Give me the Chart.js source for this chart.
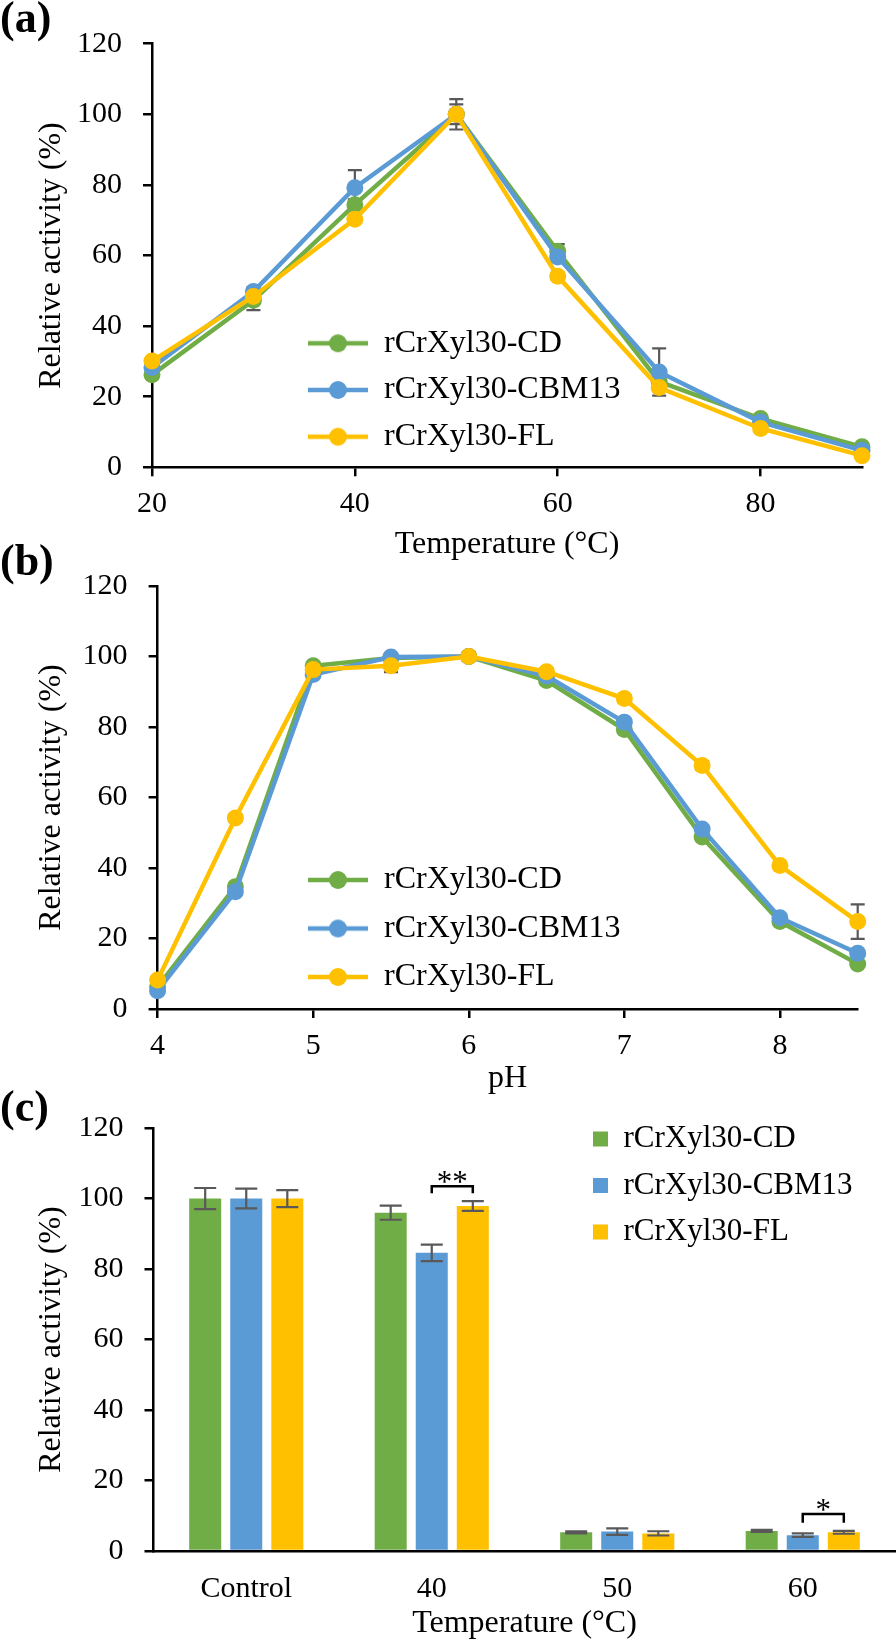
<!DOCTYPE html>
<html>
<head>
<meta charset="utf-8">
<script src="https://cdn.jsdelivr.net/npm/chart.js@4.4.1/dist/chart.umd.min.js"></script>
<style>
  body { margin: 0; background: #fff; }
  #page { position: relative; width: 896px; height: 1643px; overflow: hidden; font-family: 'Liberation Serif', 'Times New Roman', serif; }
  .panel { position: absolute; left: 0; width: 896px; }
  .tag { position: absolute; left: 0; font-weight: bold; font-size: 44px; line-height: 44px; color: #000; }
</style>
</head>
<body>
<div id="page">
  <div class="panel" style="top:0;height:564px"><canvas id="tempChart"></canvas></div>
  <div class="panel" style="top:540px;height:558px"><canvas id="phChart"></canvas></div>
  <div class="panel" style="top:1080px;height:563px"><canvas id="stabChart"></canvas></div>
  <div class="tag" style="top:-4px">(a)</div>
  <div class="tag" style="top:539px">(b)</div>
  <div class="tag" style="top:1085px">(c)</div>
</div>
<script>
const FONT = "'Liberation Serif', 'Times New Roman', serif";
Chart.defaults.font.family = FONT;
Chart.defaults.color = "#000";
Chart.defaults.animation = false;

const seriesNames = ["rCrXyl30-CD", "rCrXyl30-CBM13", "rCrXyl30-FL"];
const seriesColors = ["#70AD47", "#5B9BD5", "#FFC000"];
const errColor = "#595959";

// (a) temperature profile
const temps = [20, 30, 40, 50, 60, 70, 80, 90];
const cdTemp = [26.2, 47.3, 74.4, 100, 61.2, 24.3, 13.8, 5.8];
const cbmTemp = [28.3, 49.8, 79.2, 100, 59.6, 27.0, 12.8, 4.8];
const flTemp = [30.1, 48.4, 70.3, 100, 54.1, 22.6, 11.0, 3.3];
const cdTempErr = [1.0, 2.8, 1.5, 4.3, 2.0, 1.2, 0.8, 0.5];
const cbmTempErr = [1.0, 1.2, 5.0, 2.8, 1.5, 6.7, 0.8, 0.5];
const flTempErr = [1.0, 1.0, 1.0, 1.0, 1.0, 1.0, 0.6, 0.4];

// (b) pH profile
const phs = [4, 4.5, 5, 5.5, 6, 6.5, 7, 7.5, 8, 8.5];
const cdPH = [6.3, 34.7, 97.4, 99.6, 100, 93.2, 79.3, 48.8, 24.8, 12.8];
const cbmPH = [5.2, 33.3, 94.9, 99.9, 100, 94.5, 81.4, 51.1, 25.9, 15.8];
const flPH = [8.2, 54.2, 96.3, 97.4, 100, 95.7, 88.1, 69.1, 40.7, 24.8];
const cdPHErr = [0.5, 1, 1, 1, 1, 1, 1, 1, 1, 0.5];
const cbmPHErr = [0.5, 1, 1, 1, 1, 1, 1, 1, 1, 0.8];
const flPHErr = [0.5, 1, 1, 1.8, 1.2, 1, 1, 1.2, 1, 4.9];

// (c) thermostability
const groups = ["Control", "40", "50", "60"];
const cdBar = [100, 96.0, 5.3, 5.7];
const cbmBar = [100, 84.6, 5.5, 4.5];
const flBar = [100, 97.9, 5.0, 5.3];
const cdBarErr = [3.0, 2.0, 0.3, 0.3];
const cbmBarErr = [2.8, 2.35, 0.9, 0.5];
const flBarErr = [2.4, 1.4, 0.6, 0.4];
// significance between CBM13 and FL
const sigMarks = [
  { group: 1, text: "**", top: 103.5, leg: 101.5 },
  { group: 3, text: "*", top: 10.5, leg: 8.0 }
];

function drawErrors(chart, cap) {
  const ctx = chart.ctx;
  const y = chart.scales.y;
  ctx.save();
  ctx.strokeStyle = errColor;
  ctx.lineWidth = 2.2;
  chart.data.datasets.forEach((ds, i) => {
    if (!ds.errors) return;
    chart.getDatasetMeta(i).data.forEach((el, j) => {
      const v = y.getValueForPixel(el.y);
      const e = ds.errors[j];
      const top = y.getPixelForValue(v + e);
      const bot = y.getPixelForValue(v - e);
      ctx.beginPath();
      ctx.moveTo(el.x, top); ctx.lineTo(el.x, bot);
      ctx.moveTo(el.x - cap, top); ctx.lineTo(el.x + cap, top);
      ctx.moveTo(el.x - cap, bot); ctx.lineTo(el.x + cap, bot);
      ctx.stroke();
    });
  });
  ctx.restore();
}

const errorBars = {
  id: "errorBars",
  beforeDatasetsDraw(chart, args, opts) { if (opts.behind) drawErrors(chart, opts.cap); },
  afterDatasetsDraw(chart, args, opts) { if (!opts.behind) drawErrors(chart, opts.cap); }
};

// put the legend where the reference has it
const placeLegend = {
  id: "placeLegend",
  afterLayout(chart, args, opts) {
    const lg = chart.legend;
    const pad = chart.options.plugins.legend.labels.padding;
    lg.left = opts.x - pad;
    lg.top = opts.y - pad;
    lg.right = lg.left + 420;
    lg.bottom = lg.top + 320;
    lg.width = 420;
    lg.height = 320;
  }
};

const sigBrackets = {
  id: "sigBrackets",
  afterDatasetsDraw(chart) {
    const ctx = chart.ctx;
    const y = chart.scales.y;
    ctx.save();
    ctx.strokeStyle = "#000";
    ctx.fillStyle = "#000";
    ctx.lineWidth = 2.5;
    ctx.font = "31px " + FONT;
    ctx.textAlign = "center";
    ctx.textBaseline = "alphabetic";
    sigMarks.forEach(m => {
      const x1 = chart.getDatasetMeta(1).data[m.group].x;
      const x2 = chart.getDatasetMeta(2).data[m.group].x;
      const yt = y.getPixelForValue(m.top);
      const yl = y.getPixelForValue(m.leg);
      ctx.beginPath();
      ctx.moveTo(x1, yl); ctx.lineTo(x1, yt); ctx.lineTo(x2, yt); ctx.lineTo(x2, yl);
      ctx.stroke();
      ctx.fillText(m.text, (x1 + x2) / 2, yt + 6);
    });
    ctx.restore();
  }
};

function lineIcon(color) {
  const c = document.createElement("canvas");
  c.width = 60; c.height = 20;
  const g = c.getContext("2d");
  g.strokeStyle = color; g.lineWidth = 4.5;
  g.beginPath(); g.moveTo(0, 10); g.lineTo(60, 10); g.stroke();
  g.fillStyle = color;
  g.beginPath(); g.arc(30, 10, 9, 0, Math.PI * 2); g.fill();
  return c;
}
const icons = seriesColors.map(lineIcon);

function axisStyle() {
  return {
    grid: { drawOnChartArea: false, drawTicks: true, tickLength: 9, color: "#000", lineWidth: 2.5 },
    border: { display: true, color: "#000", width: 2.5 }
  };
}

function lineSets(xs, ys, errs) {
  return ys.map((vals, i) => ({
    label: seriesNames[i],
    data: xs.map((x, j) => ({ x: x, y: vals[j] })),
    errors: errs[i],
    borderColor: seriesColors[i],
    backgroundColor: seriesColors[i],
    borderWidth: 4.5,
    pointRadius: 8.5,
    pointBorderWidth: 0,
    pointHoverRadius: 8.5,
    tension: 0,
    clip: false,
    order: 2 - i
  }));
}

function lineChart(id, xs, ys, errs, xopt, layout) {
  return new Chart(document.getElementById(id), {
    type: "line",
    data: { datasets: lineSets(xs, ys, errs) },
    plugins: [errorBars, placeLegend],
    options: {
      responsive: true,
      maintainAspectRatio: false,
      layout: { autoPadding: false, padding: layout.padding },
      plugins: {
        tooltip: { enabled: false },
        errorBars: { behind: true, cap: 7 },
        placeLegend: layout.legendAt,
        legend: {
          position: "chartArea",
          align: "start",
          labels: {
            usePointStyle: true,
            pointStyleWidth: 60,
            padding: layout.legendGap,
            font: { size: 32 },
            sort: (a, b) => a.datasetIndex - b.datasetIndex,
            generateLabels(chart) {
              return Chart.defaults.plugins.legend.labels.generateLabels(chart)
                .map(it => Object.assign(it, { pointStyle: icons[it.datasetIndex] }));
            }
          }
        }
      },
      scales: {
        x: Object.assign(axisStyle(), {
          type: "linear",
          min: xopt.min, max: xopt.max,
          ticks: { stepSize: xopt.step, includeBounds: false, padding: 10, font: { size: 30 } },
          title: { display: true, text: xopt.title, font: { size: 32 }, padding: { top: 0, bottom: 0 } },
          afterFit(s) { s.height = layout.xHeight; }
        }),
        y: Object.assign(axisStyle(), {
          min: 0, max: 120,
          ticks: { stepSize: 20, padding: 21, font: { size: 30 } },
          title: { display: true, text: "Relative activity (%)", font: { size: 32 }, padding: { top: 32, bottom: 0 } },
          afterFit(s) { s.width = layout.yWidth; }
        })
      }
    }
  });
}

lineChart("tempChart", temps, [cdTemp, cbmTemp, flTemp], [cdTempErr, cbmTempErr, flTempErr],
  { min: 20, max: 90, step: 20, title: "Temperature (°C)" },
  { padding: { left: 0, right: 34, top: 43.7, bottom: 0 }, xHeight: 96.7, yWidth: 152,
    legendAt: { x: 308, y: 327.3 }, legendGap: 14.7 });

lineChart("phChart", phs, [cdPH, cbmPH, flPH], [cdPHErr, cbmPHErr, flPHErr],
  { min: 4, max: 8.5, step: 1, title: "pH" },
  { padding: { left: 0, right: 38.3, top: 46.1, bottom: 0 }, xHeight: 89, yWidth: 157.6,
    legendAt: { x: 308, y: 324 }, legendGap: 16.5 });

const barVals = [cdBar, cbmBar, flBar];
const barErrs = [cdBarErr, cbmBarErr, flBarErr];

new Chart(document.getElementById("stabChart"), {
  type: "bar",
  data: {
    labels: groups,
    datasets: barVals.map((vals, i) => ({
      label: seriesNames[i],
      data: vals,
      errors: barErrs[i],
      backgroundColor: seriesColors[i],
      borderWidth: 0,
      categoryPercentage: 0.664,
      barPercentage: 0.78
    }))
  },
  plugins: [errorBars, sigBrackets, placeLegend],
  options: {
    responsive: true,
    maintainAspectRatio: false,
    layout: { autoPadding: false, padding: { left: 0, right: 0.5, top: 48.1, bottom: 0 } },
    plugins: {
      tooltip: { enabled: false },
      errorBars: { behind: false, cap: 11 },
      placeLegend: { x: 593, y: 43.5 },
      legend: {
        position: "chartArea",
        align: "start",
        labels: { boxWidth: 15, boxHeight: 15, padding: 15.5, font: { size: 31 } }
      }
    },
    scales: {
      x: {
        grid: { display: false, drawTicks: false, tickLength: 0 },
        border: { display: true, color: "#000", width: 2.5 },
        ticks: { padding: 20, font: { size: 30 } },
        title: { display: true, text: "Temperature (°C)", font: { size: 32 }, padding: { top: 0, bottom: 0 } },
        afterFit(s) { s.height = 92; }
      },
      y: Object.assign(axisStyle(), {
        min: 0, max: 120,
        ticks: { stepSize: 20, padding: 21, font: { size: 30 } },
        title: { display: true, text: "Relative activity (%)", font: { size: 32 }, padding: { top: 32, bottom: 0 } },
        afterFit(s) { s.width = 153.5; }
      })
    }
  }
});
</script>
</body>
</html>
